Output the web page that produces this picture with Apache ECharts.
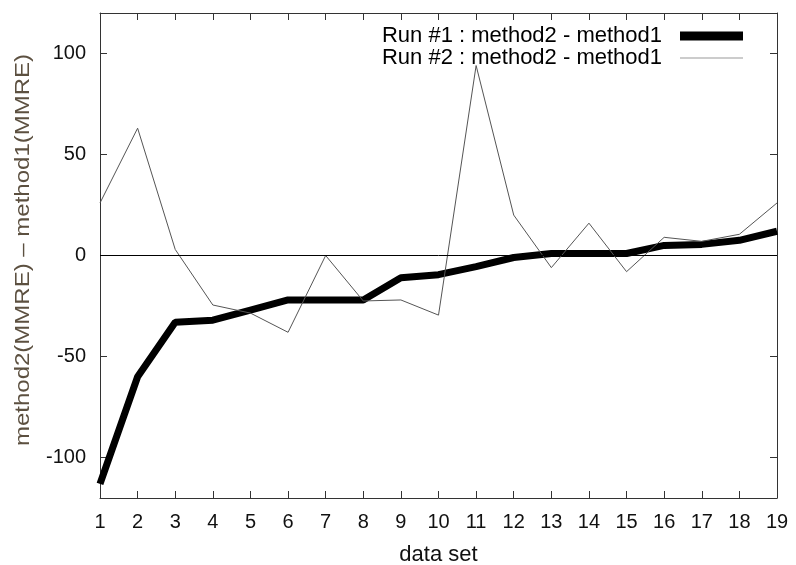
<!DOCTYPE html>
<html>
<head>
<meta charset="utf-8">
<script src="https://cdn.jsdelivr.net/npm/echarts@6/dist/echarts.min.js"></script>
<style>html,body{margin:0;padding:0;background:#fff}#c{width:796px;height:565px}</style>
</head>
<body>
<div id="c"></div>
<script>
var dataSets = [1,2,3,4,5,6,7,8,9,10,11,12,13,14,15,16,17,18,19];
var run1 = [-113, -60, -33, -32, -27, -22, -22, -22, -11, -9.5, -5.5, -1, 1, 1, 1, 5, 5.5, 7.5, 12];
var run2 = [26, 63, 3, -24.5, -28.5, -38, 0, -22.5, -22, -29.5, 94, 20, -6, 16, -8, 9, 7, 10.5, 26];
var yTicks = [-100, -50, 0, 50, 100];
var seriesNames = ['Run #1 : method2 - method1', 'Run #2 : method2 - method1'];

function pairs(vals){ return dataSets.map(function(x,i){ return [x, vals[i]]; }); }

var font = 'Liberation Sans, Arial, sans-serif';
var chart = echarts.init(document.getElementById('c'), null, {renderer:'canvas'});
var axisLine = {show:true, onZero:false, lineStyle:{color:'#333', width:1}};
chart.setOption({
  animation:false,
  backgroundColor:'#fff',
  grid:{left:100, right:19, top:13, bottom:67, containLabel:false, outerBoundsMode:'none'},
  legend:{
    orient:'vertical', right:48, top:20, align:'right', itemGap:0,
    itemWidth:63, itemHeight:20,
    textStyle:{fontFamily:font, fontSize:22, color:'#000', lineHeight:20, padding:[0,13,0,0]},
    data:[
      {name:seriesNames[0], icon:'path://M0,0 L63,0 L63,9 L0,9 Z', itemStyle:{color:'#000', borderWidth:0}},
      {name:seriesNames[1], icon:'path://M0,0 L63,0 L63,1 L0,1 Z', itemStyle:{color:'#999', borderWidth:0}}
    ]
  },
  xAxis:[{
    type:'value', min:1, max:19, interval:1, position:'bottom',
    axisLine:axisLine, splitLine:{show:false},
    axisTick:{show:true, inside:true, length:7, lineStyle:{color:'#333'}},
    axisLabel:{fontFamily:font, fontSize:20, color:'#111', margin:14},
    name:'data set', nameLocation:'middle', nameGap:46,
    nameTextStyle:{fontFamily:font, fontSize:22, color:'#111'}
  },{
    type:'value', min:1, max:19, interval:1, position:'top',
    axisLine:axisLine, splitLine:{show:false},
    axisTick:{show:true, inside:true, length:7, lineStyle:{color:'#333'}},
    axisLabel:{show:false}
  }],
  yAxis:[{
    type:'value', min:-120, max:120, position:'left',
    axisLine:axisLine, splitLine:{show:false},
    axisTick:{show:true, inside:true, length:7, customValues:yTicks, lineStyle:{color:'#333'}},
    axisLabel:{fontFamily:font, fontSize:20, color:'#111', margin:14, customValues:yTicks}
  },{
    type:'value', min:-120, max:120, position:'right',
    axisLine:axisLine, splitLine:{show:false},
    axisTick:{show:true, inside:true, length:7, customValues:yTicks, lineStyle:{color:'#333'}},
    axisLabel:{show:false, customValues:yTicks}
  }],
  graphic:[{
    type:'text', x:23, y:250, rotation:Math.PI/2, scaleX:1.2,
    style:{text:'method2(MMRE) \u2013 method1(MMRE)', fontFamily:font, fontSize:20,
      fill:'#5c5040', align:'center', verticalAlign:'middle'}
  }],
  series:[{
    name:seriesNames[0], type:'line', data:pairs(run1), symbol:'none',
    lineStyle:{color:'#000', width:7}, itemStyle:{color:'#000'},
    markLine:{silent:true, symbol:'none', label:{show:false},
      lineStyle:{color:'#000', width:1, type:'solid'}, data:[{yAxis:0}]}
  },{
    name:seriesNames[1], type:'line', data:pairs(run2), symbol:'none',
    lineStyle:{color:'#555', width:1}, itemStyle:{color:'#555'}
  }]
});
</script>
</body>
</html>
